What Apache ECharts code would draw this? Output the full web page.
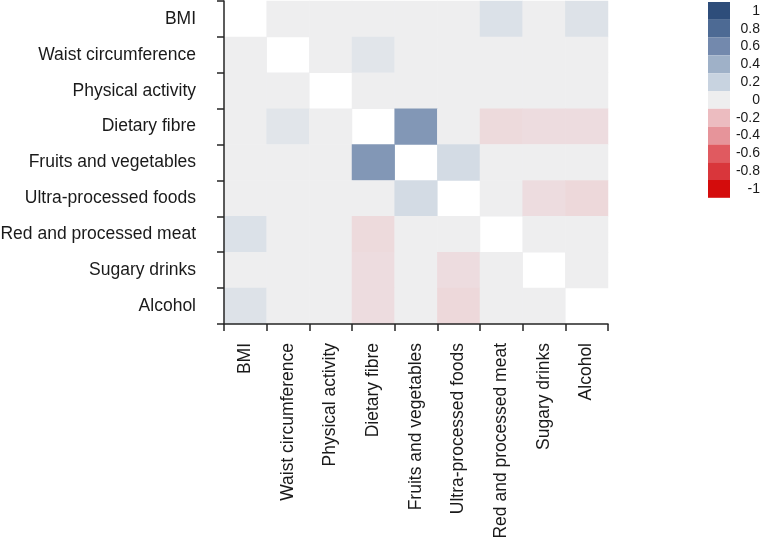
<!DOCTYPE html>
<html>
<head>
<meta charset="utf-8">
<script src="https://cdn.jsdelivr.net/npm/echarts@6/dist/echarts.min.js"></script>
<style>
html,body{margin:0;padding:0;background:#fff;}
#chart{width:761px;height:538px;}
</style>
</head>
<body>
<div id="chart"></div>
<script>
var categories = ['BMI','Waist circumference','Physical activity','Dietary fibre','Fruits and vegetables','Ultra-processed foods','Red and processed meat','Sugary drinks','Alcohol'];

// correlation values, row by row (top to bottom), null = diagonal (blank)
var rowBMI       = [null, 0, 0, 0, 0, 0, 0.10, 0, 0.09];
var rowWaist     = [0, null, 0, 0.07, 0, 0, 0, 0, 0];
var rowPhysical  = [0, 0, null, 0, 0, 0, 0, 0, 0];
var rowFibre     = [0, 0.07, 0, null, 0.53, 0, -0.08, -0.07, -0.07];
var rowFruits    = [0, 0, 0, 0.53, null, 0.14, 0, 0, 0];
var rowUPF       = [0, 0, 0, 0, 0.14, null, 0, -0.07, -0.09];
var rowMeat      = [0.10, 0, 0, -0.08, 0, 0, null, 0, 0];
var rowSugary    = [0, 0, 0, -0.07, 0, -0.07, 0, null, 0];
var rowAlcohol   = [0.09, 0, 0, -0.07, 0, -0.09, 0, 0, null];
var matrix = [rowBMI,rowWaist,rowPhysical,rowFibre,rowFruits,rowUPF,rowMeat,rowSugary,rowAlcohol];

var legendValues = [-1, -0.8, -0.6, -0.4, -0.2, 0, 0.2, 0.4, 0.6, 0.8, 1];
var legendLabels = ['-1','-0.8','-0.6','-0.4','-0.2','0','0.2','0.4','0.6','0.8','1'];
var legendColors = ['#d40c0c','#d9363b','#e05a60','#e6949a','#ecbcc0','#eeeeef','#c8d3e0','#9fb1c8','#7389ad','#4d6a94','#2e4d7a'];

var heatData = [];
matrix.forEach(function(row, r){
  row.forEach(function(v, c){
    if (v !== null) heatData.push([c, r, v]);
  });
});

var pieces = legendValues.map(function(v, i){
  return {value: v, color: legendColors[i], label: '{a|' + legendLabels[i] + '}'};
});

var chart = echarts.init(document.getElementById('chart'), null, {renderer:'canvas'});
var labelColor = '#1a1a1a';
var font = '"Liberation Sans", Arial, sans-serif';
chart.setOption({
  animation: false,
  backgroundColor: '#ffffff',
  grid: {left: 224, right: 153, top: 1, bottom: 214, containLabel: false, outerBoundsMode: 'none'},
  xAxis: {
    type: 'category',
    data: categories,
    z: 10,
    axisLine: {show: true, lineStyle: {color: '#262626', width: 1.5}},
    axisTick: {show: true, length: 7, interval: 0, alignWithLabel: false, lineStyle: {color: '#262626', width: 1.5}},
    axisLabel: {rotate: 90, margin: 19, fontSize: 17.5, color: labelColor, fontFamily: font, interval: 0},
    splitLine: {show: false}
  },
  yAxis: {
    type: 'category',
    data: categories,
    inverse: true,
    z: 10,
    axisLine: {show: true, lineStyle: {color: '#262626', width: 1.5}},
    axisTick: {show: true, length: 7, interval: 0, alignWithLabel: false, lineStyle: {color: '#262626', width: 1.5}},
    axisLabel: {margin: 28, fontSize: 17.5, color: labelColor, fontFamily: font, interval: 0},
    splitLine: {show: false}
  },
  visualMap: [
    {
      type: 'continuous',
      show: false,
      min: -1, max: 1,
      seriesIndex: 0,
      inRange: {color: legendColors}
    },
    {
      type: 'piecewise',
      seriesIndex: 1,
      orient: 'vertical',
      align: 'left',
      left: 708, top: 2,
      padding: 0,
      itemWidth: 22, itemHeight: 17.8, itemGap: 0,
      itemSymbol: 'rect',
      textGap: 6,
      pieces: pieces,
      selectedMode: false,
      hoverLink: false,
      textStyle: {
        color: labelColor, fontSize: 14, fontFamily: font,
        rich: {a: {width: 24, align: 'right', fontSize: 14, color: labelColor, fontFamily: font}}
      }
    }
  ],
  series: [
    {
      type: 'heatmap',
      data: heatData,
      z: 1,
      itemStyle: {borderWidth: 0},
      emphasis: {disabled: true},
      silent: true
    },
    {
      type: 'scatter',
      data: [],
      silent: true
    }
  ]
});
</script>
</body>
</html>
